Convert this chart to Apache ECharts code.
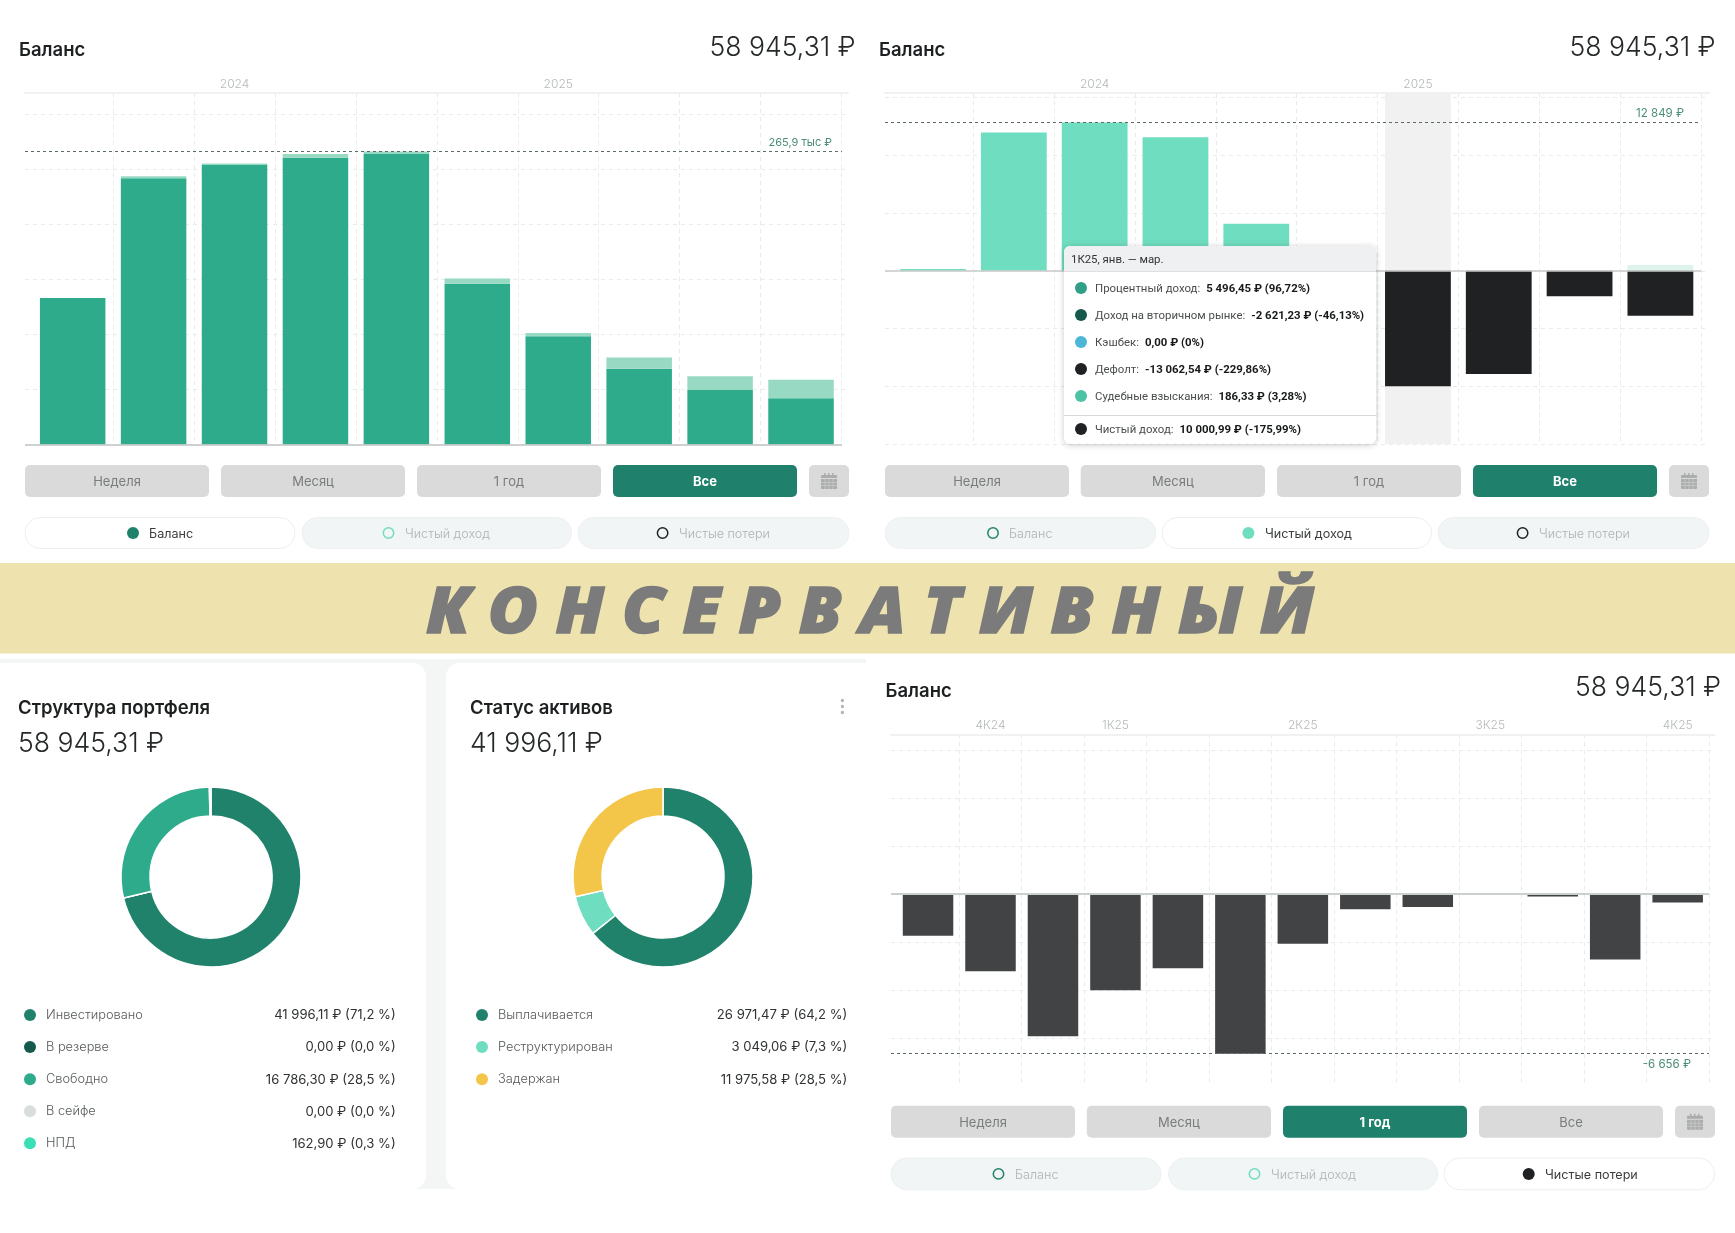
<!DOCTYPE html>
<html><head><meta charset="utf-8">
<script src="https://cdn.jsdelivr.net/npm/echarts@6/dist/echarts.min.js"></script>
<style>html,body{margin:0;padding:0;background:#fff}#c{width:1735px;height:1233px}</style>
</head><body><div id="c"></div>
<script>
// ---------- data ----------
const quarterCats = ['3К23','4К23','1К24','2К24','3К24','4К24','1К25','2К25','3К25','4К25'];
const yearTicks = ['','','2024','','','','2025','','',''];
const investedK = [133,241.7,253.7,260.2,264,146,98.4,68.9,49.5,42];
const freeK = [0,1.7,1.3,3.5,1.9,4.8,2.9,10.1,12.6,16.9];
const netIncome = [155,11977,12849,11575,4085,0,0,0,0,0];
const netIncomePale = [0,0,0,0,0,0,0,0,0,495];
const netLoss = [0,0,0,0,0,0,-10000,-8945,-2197,-3900];
const bandUp = [null,null,null,null,null,null,15400,null,null,null];
const bandDown = [null,null,null,null,null,null,-15000,null,null,null];
const monthCats = ['окт','ноя','дек','янв','фев','мар','апр','май','июн','июл','авг','сен','окт '];
const quarterTicks = ['','4К24','','1К25','','','2К25','','','3К25','','','4К25'];
const monthLoss = [-1735,-3222,-5932,-4012,-3098,-6656,-2076,-635,-542,0,-108,-2726,-356];
const portfolioNames = ['Инвестировано','В резерве','Свободно','В сейфе','НПД'];
const portfolioValues = [41996.11,0,16786.30,0,162.90];
const portfolioText = ['41 996,11 ₽ (71,2 %)','0,00 ₽ (0,0 %)','16 786,30 ₽ (28,5 %)','0,00 ₽ (0,0 %)','162,90 ₽ (0,3 %)'];
const portfolioColors = ['#20826B','#14594B','#2DAB8B','#DADDDD','#3BDFB5'];
const statusNames = ['Выплачивается','Реструктурирован','Задержан'];
const statusValues = [26971.47,3049.06,11975.58];
const statusText = ['26 971,47 ₽ (64,2 %)','3 049,06 ₽ (7,3 %)','11 975,58 ₽ (28,5 %)'];
const statusColors = ['#20826B','#6FDDC0','#F3C64A'];
const tipTitle = '1К25, янв. — мар.';
const tipLabels = ['Процентный доход:','Доход на вторичном рынке:','Кэшбек:','Дефолт:','Судебные взыскания:'];
const tipValues = ['5 496,45 ₽ (96,72%)','-2 621,23 ₽ (-46,13%)','0,00 ₽ (0%)','-13 062,54 ₽ (-229,86%)','186,33 ₽ (3,28%)'];
const tipColors = ['#2F9F85','#14594B','#4DB6D6','#1F2123','#4CC3A5'];
const tipTotalLabel = 'Чистый доход:';
const tipTotalValue = '10 000,99 ₽ (-175,99%)';
const periodLabels = ['Неделя','Месяц','1 год','Все'];
const legendLabels = ['Баланс','Чистый доход','Чистые потери'];

// ---------- layout helpers ----------
const FONT = 'Inter';
const grid=[],xAxis=[],yAxis=[],series=[],graphic=[];
const dash = {color:'#E9EBEB',type:[4,4],width:1};

function addPanel(p){
  const g0 = grid.length;
  grid.push({left:p.fx0,width:p.fx1-p.fx0,top:p.top,height:p.bottom-p.top});
  xAxis.push({type:'value',gridIndex:g0,min:p.fx0,max:p.fx1,position:'top',axisLine:{show:true,onZero:false,lineStyle:{color:'#F0F1F1',width:2}},axisTick:{show:false},axisLabel:{show:false},splitLine:{show:false}});
  yAxis.push({type:'value',gridIndex:g0,min:p.min,max:p.max,interval:p.interval,axisLine:{show:false},axisTick:{show:false},axisLabel:{show:false},splitLine:{show:true,lineStyle:dash,showMinLine:p.showMin,showMaxLine:false}});
  series.push({type:'line',name:'frame',xAxisIndex:g0,yAxisIndex:g0,data:[[p.fx0,0]],showSymbol:false,symbol:'none',z:5,silent:true,tooltip:{show:false},
    markLine:{silent:true,symbol:'none',animation:false,data:[
      [{xAxis:p.fx0,yAxis:0,lineStyle:{color:p.baseColor,type:'solid',width:p.baseW},label:{show:false}},{xAxis:p.lx1,yAxis:0}],
      [{xAxis:p.fx0,yAxis:p.peak,lineStyle:{color:'#5d6b67',type:[3,3],width:1},
        label:{show:true,formatter:p.peakLabel,position:p.peakPos,color:'#4B8C7A',fontFamily:FONT,fontSize:p.peakSize,distance:p.peakDist,padding:0}},{xAxis:p.lx1,yAxis:p.peak}]
    ]}});
  const g1 = grid.length;
  grid.push({left:p.bx0,width:p.bx1-p.bx0,top:p.top,height:p.bottom-p.top});
  xAxis.push({type:'category',gridIndex:g1,data:p.cats,position:'top',axisLine:{show:false},axisTick:{show:false},
    axisLabel:{interval:0,margin:3,color:'#B5B8B8',fontFamily:FONT,fontSize:12,fontWeight:300,formatter:(v,i)=>p.ticks[i]},
    splitLine:{show:true,interval:0,showMinLine:false,lineStyle:dash}});
  yAxis.push({type:'value',gridIndex:g1,min:p.min,max:p.max,interval:p.interval,show:false,splitLine:{show:false}});
  p.bars.forEach(b=>series.push(Object.assign({type:'bar',xAxisIndex:g1,yAxisIndex:g1,barWidth:p.barW,barGap:'-100%',z:b.z||2,silent:true,tooltip:b.tooltip||{show:false},itemStyle:{color:b.color}},b.opt,{name:b.name,data:b.data})));
}
function txt(x,y,s,o){o=o||{};graphic.push({type:'text',x,y,scaleX:o.scaleX||1,silent:true,z:o.z||10,style:{text:s,fill:o.color||'#222',stroke:o.stroke||null,lineWidth:o.stroke?(o.strokeW||1):0,font:(o.italic?'italic ':'')+(o.weight||400)+' '+(o.size||13)+'px '+(o.family||FONT),textAlign:o.align||'left',textVerticalAlign:'middle'}});}
function rect(x,y,w,h,fill,r,stroke,z){graphic.push({type:'rect',silent:true,z:z||1,shape:{x,y,width:w,height:h,r:r||0},style:{fill,stroke:stroke||null,lineWidth:stroke?1:0}});}
function dot(x,y,r,fill,stroke){graphic.push({type:'circle',silent:true,z:10,shape:{cx:x,cy:y,r},style:{fill:fill||'#fff',stroke:stroke||null,lineWidth:stroke?1.5:0}});}
function header(titleX,valX,titleY,valY){
  txt(titleX,titleY,'Баланс',{size:18.5,weight:600,color:'#1d2021'});
  txt(valX,valY,'58 945,31 ₽',{size:26.6,weight:300,color:'#26292a',align:'right'});
}
function controls(btnX,btnY,btnH,calX,calW,active,pillX,pillY,pillH,marks,activePill){
  periodLabels.forEach((t,i)=>{
    const [a,b]=btnX[i];const on=i===active;
    rect(a,btnY,b-a,btnH,on?'#1F806B':'#DADADA',5);
    txt((a+b)/2,btnY+btnH/2+1.5,t,{size:13,weight:on?700:400,color:on?'#fff':'#7A7D7D',align:'center'});
  });
  rect(calX,btnY,calW,btnH,'#DADADA',5);
  const cx=calX+calW/2,cy=btnY+btnH/2;
  rect(cx-8,cy-6,16,14,'#ABADAD',1,null,10);
  rect(cx-8,cy-3,16,1,'#DADADA',0,null,11);
  [-4,0,4].forEach(d=>rect(cx+d-.5,cy-2,1,10,'#C4C6C6',0,null,11));
  [1,4].forEach(d=>rect(cx-8,cy+d,16,1,'#C4C6C6',0,null,11));
  [-5,-1,3].forEach(d=>rect(cx+d,cy-8,1.5,3,'#ABADAD',0,null,10));
  const ringColors=['#20826B','#6FDDC0','#1F2123'];
  legendLabels.forEach((t,i)=>{
    const [a,b]=pillX[i];const on=i===activePill;
    rect(a,pillY,b-a,pillH,on?'#fff':'#F2F5F5',pillH/2,on?'#ECEFEF':'#EEF1F1');
    const [dx,tx]=marks[i];
    if(on) dot(dx,pillY+pillH/2,6,ringColors[i]); else dot(dx,pillY+pillH/2,5.2,'#F2F5F5',ringColors[i]);
    txt(tx,pillY+pillH/2+1,t,{size:12.6,color:on?'#3a3d3e':'#AEB2B2',weight:on?400:300});
  });
}
function donutCard(title,amount,tx,cx,names,vals,texts,colors,dotX,labelX,rightX){
  txt(tx,708,title,{size:18.5,weight:600,color:'#1d2021'});
  txt(tx,743.5,amount,{size:26.6,weight:300,color:'#26292a'});
  series.push({type:'pie',name:title,center:[cx,877],radius:[61,90],startAngle:90,clockwise:true,silent:true,label:{show:false},labelLine:{show:false},tooltip:{show:false},
    itemStyle:{borderColor:'#fff',borderWidth:1.5},
    data:names.map((n,i)=>({name:n,value:vals[i],itemStyle:{color:colors[i]}}))});
  const rowY=[1015,1047,1079.2,1111.2,1143.2];
  names.forEach((n,i)=>{
    dot(dotX,rowY[i],6,colors[i]);
    txt(labelX,rowY[i],n,{size:12.8,weight:300,color:'#55595a'});
    txt(rightX,rowY[i]+.5,texts[i],{size:13.1,color:'#2f3233',align:'right'});
  });
}

// ---------- page ----------
rect(0,563,1735,90.5,'#EEE3AE',0);
txt(870,615,'К О Н С Е Р В А Т И В Н Ы Й',{size:64,scaleX:1.065,weight:800,italic:true,family:'Open Sans',color:'#7B7B7B',stroke:'#7B7B7B',strokeW:1.5,align:'center',z:12});
rect(0,659,866,530,'#F4F6F6',0);
rect(-10,663,436,526,'#fff',14);
rect(446,663,420,526,'#fff',[14,0,0,14]);

addPanel({fx0:25,fx1:848,lx1:842,bx0:32.2,bx1:841.5,top:93,bottom:444.6,min:0,max:319,interval:50,showMin:false,
  cats:quarterCats,ticks:yearTicks,barW:65.5,peak:265.9,peakLabel:'265,9 тыс ₽',peakPos:'insideEndTop',peakSize:11,peakDist:[10,3],baseColor:'#BFC2C2',baseW:1.5,
  bars:[{name:'Инвестировано',data:investedK,color:'#2DAB8B',opt:{stack:'b'}},{name:'Свободно',data:freeK,color:'#98D9C4',opt:{stack:'b'}}]});
addPanel({fx0:885,fx1:1709,lx1:1701,bx0:892.6,bx1:1700.8,top:93,bottom:444,min:-15000,max:15400,interval:5000,showMin:true,
  cats:quarterCats,ticks:yearTicks,barW:65.8,peak:12849,peakLabel:'12 849 ₽',peakPos:'insideEndTop',peakSize:11.5,peakDist:[17,3],baseColor:'#C8CBCB',baseW:1.5,
  bars:[
    {name:'Период',data:bandUp,color:'#F1F1F1',z:1,opt:{stack:'band'}},
    {name:'Период ',data:bandDown,color:'#F1F1F1',z:1,opt:{stack:'band'}},
    {name:'Чистый доход',data:netIncome,color:'#6FDDC0',opt:{stack:'net'}},
    {name:'Чистый доход, прошлый',data:netIncomePale,color:'#DDF3EC',opt:{stack:'net'}},
    {name:'Чистые потери',data:netLoss,color:'#1F2123',tooltip:{show:true},opt:{stack:'net'}}
  ]});
const lossSeriesIndex = series.length-1;
addPanel({fx0:891,fx1:1714.6,lx1:1709,bx0:896.8,bx1:1708.9,top:734.4,bottom:1086,min:-8000,max:6650,interval:2000,showMin:false,
  cats:monthCats,ticks:quarterTicks,barW:50.5,peak:-6656,peakLabel:'-6 656 ₽',peakPos:'insideEndBottom',peakSize:11.5,peakDist:[18,4.5],baseColor:'#CCCFCF',baseW:2,
  bars:[{name:'Чистые потери',data:monthLoss,color:'#414344',opt:{stack:'l'}}]});

header(19,855.5,50,47.5);
header(879,1715.5,50,47.5);
header(885.5,1721,691,688);

const y1=465,h1=32,py1=517.5,ph1=31;
controls([[25,209],[221,405],[417,601],[613,797]],y1,h1,809,40,3,[[25,295],[302,571.6],[578,849]],py1,ph1,[[133,149],[388.5,405],[662.6,679]],0);
controls([[885,1069],[1080.7,1265],[1277,1461],[1473,1657]],y1,h1,1669,40,3,[[885,1155.8],[1162,1431.6],[1438,1709]],py1,ph1,[[993,1009],[1248.4,1265],[1522.6,1539]],1);
controls([[891,1075],[1086.8,1271],[1283,1467],[1479,1663]],1105.8,32,1675,40,2,[[891,1161],[1168.5,1437.7],[1444,1714.6]],1158,31.8,[[998.5,1015],[1254.5,1271],[1528.7,1545]],2);

donutCard('Структура портфеля','58 945,31 ₽',18,211,portfolioNames,portfolioValues,portfolioText,portfolioColors,30,46,395.7);
donutCard('Статус активов','41 996,11 ₽',470,663,statusNames,statusValues,statusText,statusColors,482,498,847.4);
[700.5,706.5,712.5].forEach(y=>dot(842.4,y,1.7,'#B4B7B7'));

// ---------- tooltip body ----------
function tipRow(c,l,v){return `<div style="display:flex;align-items:center;height:27px;padding-left:11px;white-space:nowrap"><span style="width:12px;height:12px;border-radius:50%;background:${c};margin-right:8px;flex:none"></span><span style="color:#4a4d4e">${l}</span><b style="margin-left:6px;color:#17191a">${v}</b></div>`;}
const tipHtml = `<div style="width:312px;height:198px;font:11.4px Roboto,sans-serif;box-sizing:border-box;overflow:hidden;border-radius:6px">
<div style="height:26px;line-height:26px;background:#EEF0F2;padding-left:7px;color:#333;border-bottom:1px solid #DDE0E0;box-sizing:border-box">${tipTitle}</div>
<div style="padding-top:2px">${tipLabels.map((l,i)=>tipRow(tipColors[i],l,tipValues[i])).join('')}</div>
<div style="margin-top:6px;border-top:1px solid #D5D8D8;margin-bottom:0"><div style="margin-top:-1px">${tipRow('#1F2123',tipTotalLabel,tipTotalValue)}</div></div></div>`;

const chart = echarts.init(document.getElementById('c'),null,{width:1735,height:1233});
chart.setOption({animation:false,backgroundColor:'#fff',
  tooltip:{show:true,trigger:'item',alwaysShowContent:true,showDelay:0,hideDelay:0,transitionDuration:0,position:[1064,246],padding:0,borderWidth:0,backgroundColor:'#fff',
    extraCssText:'box-shadow:0 1px 6px rgba(0,0,0,.22);border-radius:6px;',formatter:()=>tipHtml},
  grid,xAxis,yAxis,series,graphic:{elements:graphic}});
chart.dispatchAction({type:'showTip',seriesIndex:lossSeriesIndex,dataIndex:6});
</script></body></html>
